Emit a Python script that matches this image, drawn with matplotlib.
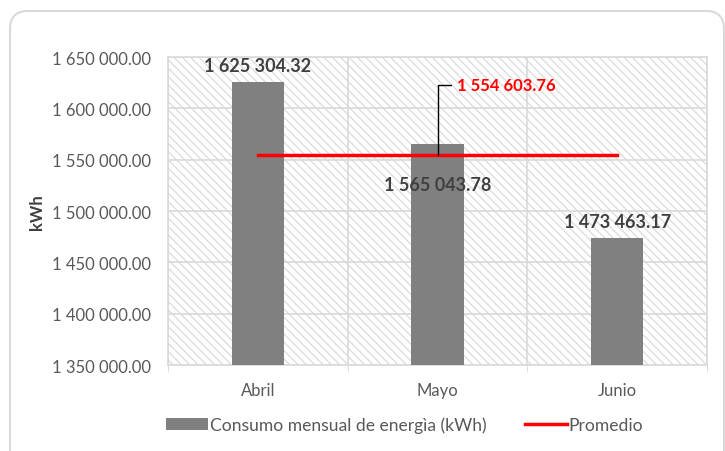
import matplotlib
matplotlib.use("Agg")
import matplotlib.pyplot as plt
from matplotlib.patches import Rectangle, FancyBboxPatch, Patch
from matplotlib.lines import Line2D
from matplotlib.transforms import IdentityTransform

months = ["Abril", "Mayo", "Junio"]
consumo = [1625304.32, 1565043.78, 1473463.17]
promedio = 1554603.76
y_min, y_max, y_step = 1350000, 1650000, 50000

def fmt(v):
    return f"{v:,.2f}".replace(",", " ")

plt.rcParams['font.family'] = ['Lato', 'DejaVu Sans']
plt.rcParams['hatch.linewidth'] = 1.0

W, H = 725, 452
fig = plt.figure(figsize=(W/100, H/100), dpi=100)
# outer rounded border (display pixel coords)
border = FancyBboxPatch((10, -30), 714, H - 12 + 30, boxstyle="round,pad=0,rounding_size=18",
                        transform=IdentityTransform(), facecolor='white', edgecolor='#d9d9d9',
                        linewidth=1.5, zorder=-10)
fig.patches.append(border)

ax = fig.add_axes([168/W, 1-366/H, (707-168)/W, (366-58)/H])
ax.set_facecolor('none')
bg = Rectangle((0, 0), 1, 1, transform=ax.transAxes, facecolor='white', edgecolor='#dedede',
               hatch='\\\\\\\\', linewidth=0, zorder=0)
ax.add_patch(bg)

x = list(range(len(months)))
ax.bar(x, consumo, width=0.29, color='#808080', zorder=3)
ax.plot(x, [promedio]*len(x), color='#ff0000', linewidth=2.5, zorder=4)

ax.set_xlim(-0.5, 2.5)
ax.set_ylim(y_min, y_max)
ticks = list(range(y_min, y_max + 1, y_step))
ax.set_yticks(ticks)
ax.set_yticklabels([fmt(t) for t in ticks], fontsize=12, color='#595959')
ax.set_xticks(x)
ax.set_xticklabels(months, fontsize=12, color='#595959')
ax.set_xticks([-0.5, 0.5, 1.5, 2.5], minor=True)
ax.tick_params(axis='y', length=0, pad=12)
ax.tick_params(axis='x', which='major', length=0, pad=12)
ax.tick_params(axis='x', which='minor', length=5, color='#d9d9d9')
ax.grid(axis='y', color='#d9d9d9', linewidth=1.2, zorder=1)
ax.grid(axis='x', which='minor', color='#d9d9d9', linewidth=1.2, zorder=1)
for s in ['top', 'right', 'left', 'bottom']:
    ax.spines[s].set_color('#d9d9d9')
    ax.spines[s].set_linewidth(1.2)
ax.set_axisbelow(True)

ax.set_ylabel('kWh', fontsize=12, fontweight='bold', color='#404040', labelpad=5)

# data labels
lbl_kw = dict(fontsize=13, fontweight='bold', color='#404040', ha='center', zorder=6)
ax.annotate(fmt(consumo[0]), (0, consumo[0]), xytext=(0, 6), textcoords='offset points', va='bottom', **lbl_kw)
ax.annotate(fmt(consumo[1]), (1, consumo[1]), xytext=(0, -23), textcoords='offset points', va='top', **lbl_kw)
ax.annotate(fmt(consumo[2]), (2, consumo[2]), xytext=(0, 6), textcoords='offset points', va='bottom', **lbl_kw)

# average callout
ax.annotate(fmt(promedio), xy=(1, promedio), xytext=(14, 50), textcoords='offset points',
            fontsize=12, fontweight='bold', color='#ff0000', ha='left', va='center', zorder=6,
            arrowprops=dict(arrowstyle='-', color='black', linewidth=1,
                            connectionstyle='angle,angleA=0,angleB=90,rad=0',
                            shrinkA=2, shrinkB=0))

handles = [Patch(facecolor='#808080', edgecolor='none'),
           Line2D([0], [0], color='#ff0000', linewidth=2.5)]
fig.legend(handles, ['Consumo mensual de energìa (kWh)', 'Promedio'], loc='center',
           bbox_to_anchor=(0.558, 1-426/H), ncol=2, frameon=False, fontsize=12.6,
           labelcolor='#595959', handlelength=2.4, handletextpad=0.1, columnspacing=2.2)

fig.savefig('out.png', dpi=100)
